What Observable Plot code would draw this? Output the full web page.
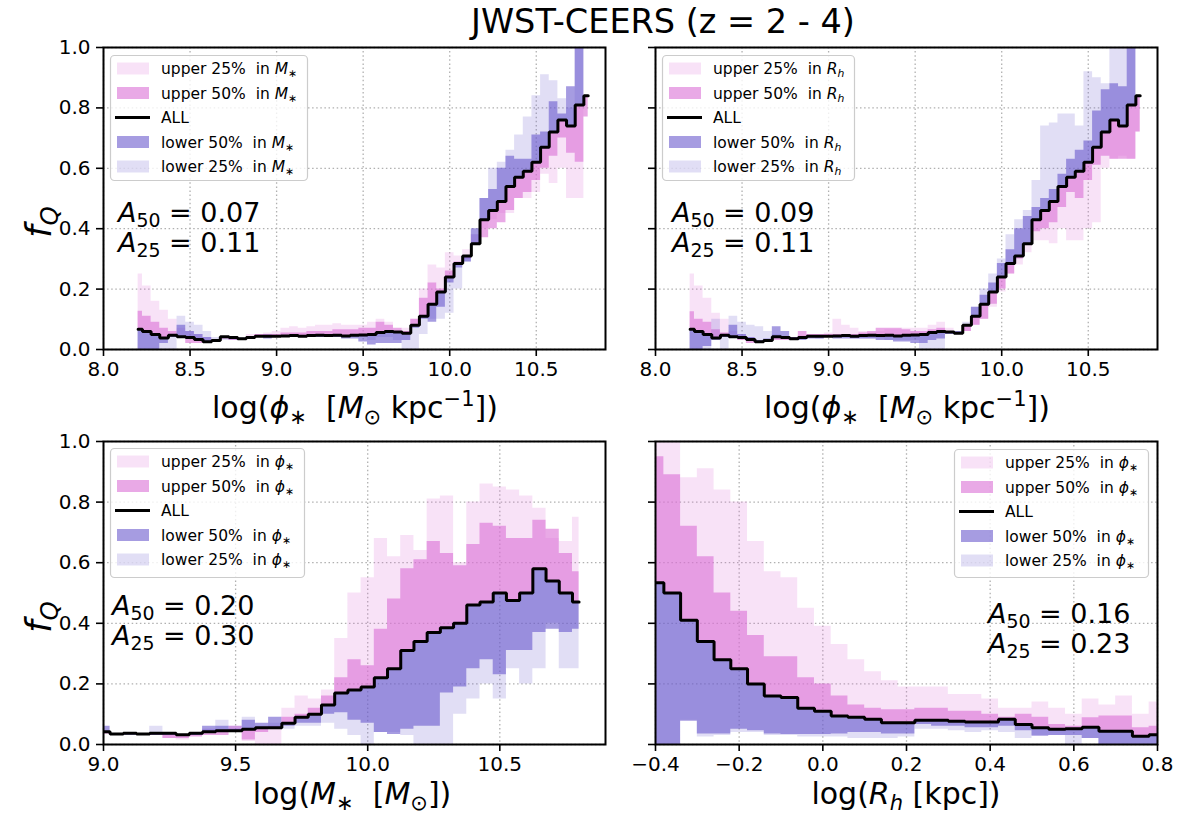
<!DOCTYPE html>
<html><head><meta charset="utf-8">
<script src="https://cdn.jsdelivr.net/npm/d3@7"></script>
<script src="https://cdn.jsdelivr.net/npm/@observablehq/plot@0.6"></script>
<style>
body{margin:0;background:#fff;}
#wrap{position:relative;width:1181px;height:819px;overflow:hidden;background:#fff;}
#wrap svg{position:absolute;}
</style></head><body><div id="wrap"></div>
<script>
// ---------- data ----------
const topX = [8.20,8.25,8.30,8.35,8.40,8.45,8.50,8.55,8.60,8.65,8.70,8.75,8.80,8.85,8.90,8.95,9.00,9.05,9.10,9.15,9.20,9.25,9.30,9.35,9.40,9.45,9.50,9.55,9.60,9.65,9.70,9.75,9.80,9.85,9.90,9.95,10.00,10.05,10.10,10.15,10.20,10.25,10.30,10.35,10.40,10.45,10.50,10.55,10.60,10.65,10.70,10.75,10.80];
const allTop = [0.067,0.060,0.050,0.038,0.047,0.042,0.040,0.033,0.026,0.030, 0.042,0.040,0.036,0.040,0.044,0.044,0.044,0.045,0.046,0.044, 0.046,0.047,0.046,0.047,0.045,0.047,0.048,0.050,0.056,0.060, 0.058,0.054,0.080,0.110,0.150,0.190,0.240,0.285,0.310,0.350, 0.430,0.460,0.490,0.540,0.570,0.590,0.620,0.670,0.720,0.760, 0.740,0.810,0.840];
// top-left: split in stellar mass
const tlU25 = [0.25,0.21,0.16,0.13,0.10,0.07,0.06,0.05,0.04,0.03, 0.035,0.04,0.03,0.05,0.05,0.055,0.06,0.07,0.075,0.07, 0.075,0.08,0.08,0.085,0.08,0.08,0.08,0.09,0.10,0.09, 0.06,0.07,0.10,0.20,0.28,0.27,0.32,0.31,0.33,0.38, 0.40,0.43,0.45,0.45,0.50,0.50,0.52,0.58,0.55,0.60, 0.50,0.50,0.84];
const tlU50 = [0.127,0.11,0.09,0.07,0.06,0.045,0.02,0.02,0.02,0.03, 0.035,0.03,0.035,0.04,0.05,0.05,0.05,0.055,0.055,0.055, 0.06,0.06,0.06,0.065,0.065,0.065,0.07,0.07,0.09,0.08, 0.07,0.06,0.10,0.17,0.22,0.20,0.26,0.29,0.30,0.35, 0.37,0.40,0.42,0.46,0.50,0.52,0.56,0.60,0.64,0.70, 0.65,0.62,0.77];
const tlL50 = [0.0,0.0,0.0,0.02,0.04,0.08,0.06,0.05,0.04,0.03, 0.04,0.035,0.03,0.035,0.04,0.035,0.04,0.04,0.04,0.04, 0.04,0.04,0.04,0.04,0.035,0.035,0.025,0.015,0.02,0.02, 0.02,0.03,0.07,0.10,0.09,0.14,0.22,0.27,0.29,0.40, 0.50,0.53,0.60,0.64,0.63,0.63,0.71,0.72,0.82,0.78, 0.87,1.0,0.84];
const tlL25 = [0.0,0.0,0.0,0.0,0.0,0.11,0.09,0.08,0.06,0.04, 0.03,0.03,0.04,0.035,0.04,0.05,0.04,0.04,0.04,0.045, 0.04,0.04,0.04,0.04,0.04,0.04,0.04,0.03,0.04,0.04, 0.03,0.0,0.0,0.05,0.10,0.10,0.12,0.20,0.29,0.38, 0.50,0.60,0.62,0.66,0.71,0.77,0.84,0.91,0.89,0.83, 0.80,1.0,0.84];
// top-right: split in half-light radius
const trU25 = [0.25,0.21,0.17,0.12,0.10,0.06,0.05,0.04,0.03,0.03, 0.035,0.04,0.04,0.045,0.05,0.05,0.055,0.10,0.08,0.07, 0.06,0.055,0.06,0.065,0.065,0.07,0.07,0.07,0.08,0.09, 0.07,0.05,0.06,0.08,0.10,0.14,0.19,0.25,0.28,0.32, 0.36,0.36,0.35,0.40,0.36,0.36,0.40,0.42,0.60,0.63, 0.64,0.63,0.72];
const trU50 = [0.125,0.10,0.09,0.065,0.055,0.045,0.03,0.02,0.02,0.025, 0.03,0.03,0.04,0.06,0.05,0.05,0.05,0.05,0.05,0.05, 0.055,0.06,0.07,0.07,0.07,0.065,0.06,0.06,0.065,0.07, 0.06,0.055,0.06,0.08,0.10,0.15,0.20,0.25,0.30,0.35, 0.39,0.40,0.42,0.47,0.52,0.50,0.56,0.61,0.64,0.63, 0.63,0.63,0.72];
const trL50 = [0.0,0.0,0.01,0.03,0.04,0.08,0.05,0.04,0.03,0.035, 0.075,0.06,0.04,0.03,0.035,0.035,0.04,0.035,0.035,0.035, 0.035,0.035,0.03,0.03,0.025,0.025,0.02,0.02,0.03,0.035, 0.05,0.06,0.08,0.14,0.18,0.22,0.285,0.33,0.40,0.44, 0.47,0.50,0.53,0.58,0.63,0.66,0.69,0.79,0.86,0.88, 0.87,1.0,0.84];
const trL25 = [0.0,0.0,0.0,0.10,0.0,0.11,0.09,0.08,0.075,0.06, 0.05,0.04,0.035,0.04,0.04,0.035,0.04,0.04,0.04,0.035, 0.035,0.035,0.035,0.03,0.03,0.03,0.03,0.0,0.0,0.0, 0.05,0.06,0.09,0.14,0.20,0.25,0.30,0.38,0.43,0.46, 0.56,0.74,0.75,0.78,0.78,0.74,0.92,0.90,0.88,1.0, 1.0,1.0,0.84];
// bottom-left: vs stellar mass, split in phi
const blX = [9.00,9.05,9.10,9.15,9.20,9.25,9.30,9.35,9.40,9.45,9.50,9.55,9.60,9.65,9.70,9.75,9.80,9.85,9.90,9.95,10.00,10.05,10.10,10.15,10.20,10.25,10.30,10.35,10.40,10.45,10.50,10.55,10.60,10.65,10.70,10.75,10.80];
const blAll = [0.042,0.035,0.037,0.035,0.037,0.037,0.032,0.037,0.042,0.045, 0.045,0.050,0.055,0.055,0.070,0.090,0.100,0.130,0.170,0.180, 0.190,0.220,0.250,0.310,0.340,0.370,0.385,0.400,0.460,0.470, 0.500,0.475,0.500,0.580,0.540,0.500,0.470];
const blU25 = [0.035,0.03,0.04,0.03,0.035,0.02,0.015,0.04,0.05,0.05, 0.05,0.01,0.0,0.0,0.12,0.16,0.15,0.18,0.35,0.50, 0.55,0.68,0.62,0.69,0.64,0.81,0.82,0.60,0.80,0.86, 0.85,0.84,0.82,0.78,0.68,0.67,0.75];
const blU50 = [0.035,0.03,0.035,0.035,0.03,0.02,0.02,0.025,0.03,0.03, 0.06,0.015,0.04,0.06,0.09,0.10,0.12,0.16,0.22,0.28, 0.26,0.38,0.48,0.58,0.61,0.67,0.63,0.59,0.66,0.73, 0.72,0.68,0.68,0.74,0.71,0.63,0.57];
const blL50 = [0.06,0.03,0.03,0.03,0.03,0.03,0.03,0.03,0.06,0.06, 0.05,0.08,0.07,0.09,0.06,0.07,0.07,0.10,0.105,0.08, 0.07,0.04,0.033,0.05,0.06,0.06,0.17,0.19,0.25,0.28, 0.23,0.31,0.31,0.37,0.38,0.37,0.38];
const blL25 = [0.04,0.03,0.04,0.03,0.06,0.04,0.03,0.03,0.05,0.08, 0.06,0.09,0.06,0.07,0.05,0.06,0.06,0.07,0.05,0.03, 0.0,0.04,0.04,0.03,0.0,0.0,0.0,0.10,0.15,0.20, 0.15,0.25,0.20,0.25,0.40,0.25,0.25];
// bottom-right: vs half-light radius, split in phi
const brX = [-0.40,-0.36,-0.32,-0.28,-0.24,-0.20,-0.16,-0.12,-0.08,-0.04,0.00,0.04,0.08,0.12,0.16,0.20,0.24,0.28,0.32,0.36,0.40,0.44,0.48,0.52,0.56,0.60,0.64,0.68,0.72,0.76,0.80];
const brAll = [0.534,0.50,0.41,0.34,0.28,0.25,0.20,0.16,0.155,0.12, 0.11,0.094,0.09,0.083,0.072,0.072,0.08,0.08,0.077,0.074, 0.074,0.083,0.066,0.055,0.05,0.052,0.057,0.044,0.044,0.027, 0.032];
const brU25 = [1.0,1.0,0.88,0.91,0.84,0.80,0.67,0.57,0.55,0.45, 0.39,0.33,0.28,0.24,0.21,0.19,0.19,0.19,0.165,0.165, 0.15,0.12,0.12,0.14,0.12,0.10,0.15,0.13,0.16,0.10, 0.14];
const brU50 = [0.95,0.89,0.72,0.62,0.50,0.44,0.36,0.29,0.29,0.22, 0.20,0.16,0.13,0.12,0.115,0.115,0.12,0.12,0.11,0.11, 0.10,0.09,0.10,0.09,0.066,0.06,0.088,0.094,0.094,0.055, 0.06];
const brL50 = [0.0,0.0,0.077,0.035,0.035,0.05,0.045,0.035,0.033,0.033, 0.033,0.035,0.04,0.04,0.035,0.035,0.066,0.06,0.06,0.055, 0.055,0.06,0.045,0.027,0.03,0.03,0.02,0.0,0.0,0.0, 0.0];
const brL25 = [0.0,0.0,0.08,0.025,0.03,0.04,0.04,0.03,0.03,0.025, 0.025,0.025,0.02,0.02,0.02,0.025,0.05,0.05,0.045,0.04, 0.045,0.04,0.02,0.03,0.03,0.0,0.02,0.0,0.0,0.0, 0.0];

const xTicksTop = [8.0, 8.5, 9.0, 9.5, 10.0, 10.5];
const xTicksBL = [9.0, 9.5, 10.0, 10.5];
const xTicksBR = [-0.4, -0.2, 0.0, 0.2, 0.4, 0.6, 0.8];
const yTicks = [0.0, 0.2, 0.4, 0.6, 0.8, 1.0];
const seriesLabels = ["upper 25%", "upper 50%", "ALL", "lower 50%", "lower 25%"];
const aValues = [["0.07", "0.11"], ["0.09", "0.11"], ["0.20", "0.30"], ["0.16", "0.23"]];
const titleText = "JWST-CEERS (z = 2 - 4)";

// ---------- drawing ----------
const ORCHID = "#da70d6", SLATE = "#6a5acd";
const wrap = document.getElementById("wrap");
const fmt = d3.format(".1f");

function rows(x, all, u25, u50, l50, l25) {
  return x.map((v, i) => ({x: v, all: all[i], u25: u25[i], u50: u50[i], l50: l50[i], l25: l25[i]}));
}

function panel(data, xDomain, xTicks, showY, left, top, h) {
  const W = 502, mL = 60, mR = 12, mT = 10, mB = 40;
  const grid = {stroke: "#b0b0b0", strokeOpacity: 1, strokeWidth: 1.3, strokeDasharray: "1.5,2.6"};
  const svg = Plot.plot({
    width: W + mL + mR, height: h + mT + mB,
    marginLeft: mL, marginRight: mR, marginTop: mT, marginBottom: mB,
    x: {domain: xDomain}, y: {domain: [0, 1]},
    style: {fontFamily: "DejaVu Sans", fontSize: "20px", background: "transparent", overflow: "visible", color: "black"},
    marks: [
      Plot.gridX(xTicks, grid),
      Plot.gridY(yTicks, grid),
      Plot.areaY(data, {x: "x", y1: "all", y2: "u25", curve: "step", fill: ORCHID, fillOpacity: 0.2, clip: true}),
      Plot.areaY(data, {x: "x", y1: "all", y2: "u50", curve: "step", fill: ORCHID, fillOpacity: 0.6, clip: true}),
      Plot.areaY(data, {x: "x", y1: "all", y2: "l50", curve: "step", fill: SLATE, fillOpacity: 0.6, clip: true}),
      Plot.areaY(data, {x: "x", y1: "all", y2: "l25", curve: "step", fill: SLATE, fillOpacity: 0.2, clip: true}),
      Plot.line(data, {x: "x", y: "all", curve: "step", stroke: "black", strokeWidth: 3, strokeLinejoin: "miter", clip: true}),
      Plot.axisX(xTicks, {tickSize: 7, tickPadding: 5, tickFormat: fmt, strokeWidth: 1.6, label: null}),
      Plot.axisY(yTicks, {tickSize: 7, tickPadding: 6, tickFormat: showY ? fmt : () => "", strokeWidth: 1.6, label: null}),
      Plot.frame({stroke: "black", strokeWidth: 2})
    ]
  });
  svg.style.left = (left - mL) + "px";
  svg.style.top = (top - mT) + "px";
  wrap.appendChild(svg);
}

panel(rows(topX, allTop, tlU25, tlU50, tlL50, tlL25), [8.0, 10.9], xTicksTop, true, 103, 47, 302);
panel(rows(topX, allTop, trU25, trU50, trL50, trL25), [8.0, 10.9], xTicksTop, false, 655, 47, 302);
panel(rows(blX, blAll, blU25, blU50, blL50, blL25), [9.0, 10.9], xTicksBL, true, 103, 441, 303);
panel(rows(brX, brAll, brU25, brU50, brL50, brL25), [-0.4, 0.8], xTicksBR, false, 655, 441, 303);

// ---------- overlay text ----------
const ov = d3.select(wrap).append("svg")
  .attr("width", 1181).attr("height", 819)
  .style("left", "0px").style("top", "0px")
  .attr("font-family", "DejaVu Sans").attr("fill", "black");

function mtext(g, x, y, size, parts, anchor) {
  const t = g.append("text").attr("x", x).attr("y", y).attr("font-size", size)
    .attr("text-anchor", anchor || "start").style("white-space", "pre");
  let shift = 0;
  for (const [s, kind] of parts) {
    const ts = t.append("tspan").text(s);
    let target = 0;
    if (kind.includes("sub")) { target = 0.20 * size; ts.attr("font-size", size * 0.7); }
    else if (kind.includes("sup")) { target = -0.40 * size; ts.attr("font-size", size * 0.7); }
    if (target !== shift) { ts.attr("dy", target - shift); shift = target; }
    if (kind === "i" || kind === "subi") ts.attr("font-style", "italic");
  }
  return t;
}

// title
ov.append("text").attr("x", 663).attr("y", 33).attr("text-anchor", "middle")
  .attr("font-size", 33.5).text(titleText);

// x labels
const phiLab = [["log(", ""], ["ϕ", "i"], ["∗", "sub"], ["  [", ""], ["M", "i"], ["⊙", "sub"], [" kpc", ""], ["−1", "sup"], ["])", ""]];
mtext(ov, 355, 418, 30, phiLab, "middle");
mtext(ov, 907, 418, 30, phiLab, "middle");
mtext(ov, 352, 804, 30, [["log(", ""], ["M", "i"], ["∗", "sub"], ["  [", ""], ["M", "i"], ["⊙", "sub"], ["])", ""]], "middle");
mtext(ov, 906, 804, 30, [["log(", ""], ["R", "i"], ["h", "subi"], [" [kpc])", ""]], "middle");

// y labels f_Q
for (const cy of [222, 617]) {
  const g = ov.append("g").attr("transform", `translate(51,${cy}) rotate(-90)`);
  mtext(g, 0, 0, 35, [["f", "i"], ["Q", "subi"]], "middle");
}

// A values
const aPos = [[118, 222], [672, 222], [112, 615], [988, 623]];
aPos.forEach(([x, y], k) => {
  mtext(ov, x, y, 27, [["A", "i"], ["50", "sub"], [" = " + aValues[k][0], ""]]);
  mtext(ov, x, y + 30, 27, [["A", "i"], ["25", "sub"], [" = " + aValues[k][1], ""]]);
});

// legends
const symM = [["M", "i"], ["∗", "sub"]];
const symR = [["R", "i"], ["h", "subi"]];
const symP = [["ϕ", "i"], ["∗", "sub"]];
const styles = [
  {fill: ORCHID, op: 0.2}, {fill: ORCHID, op: 0.6}, null, {fill: SLATE, op: 0.6}, {fill: SLATE, op: 0.2}
];
function legend(Lx, Ly, w, h, sym) {
  const g = ov.append("g");
  g.append("rect").attr("x", Lx + 0.5).attr("y", Ly + 0.5).attr("width", w).attr("height", h)
    .attr("rx", 4).attr("fill", "white").attr("fill-opacity", 0.8)
    .attr("stroke", "#cccccc").attr("stroke-width", 1.2);
  seriesLabels.forEach((lab, i) => {
    const cy = Ly + 13.5 + i * 24.5;
    const st = styles[i];
    if (st) {
      g.append("rect").attr("x", Lx + 7).attr("y", cy - 6).attr("width", 32).attr("height", 12)
        .attr("fill", st.fill).attr("fill-opacity", st.op);
      mtext(g, Lx + 51, cy + 5.5, 15.5, [[lab + "  in ", ""], ...sym]);
    } else {
      g.append("line").attr("x1", Lx + 5).attr("x2", Lx + 40).attr("y1", cy).attr("y2", cy)
        .attr("stroke", "black").attr("stroke-width", 3);
      mtext(g, Lx + 51, cy + 5.5, 15.5, [[lab, ""]]);
    }
  });
}
legend(110, 55, 197, 125, symM);
legend(662, 55, 192, 125, symR);
legend(110, 448, 194, 129, symP);
legend(954, 449, 194, 128, symP);
</script>
</body></html>
